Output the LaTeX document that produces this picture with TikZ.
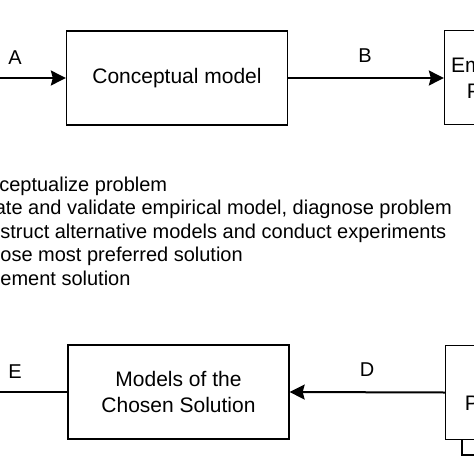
\documentclass[tikz,border=0pt]{standalone}
\usepackage{fontspec}
\setmainfont{Liberation Sans}
\usetikzlibrary{arrows.meta}

\begin{document}
\begin{tikzpicture}[x=1pt,y=-1pt,
    modelbox/.style={draw,line width=1.3pt,fill=white,minimum width=221pt,minimum height=94pt,
        inner sep=0pt,align=center,font=\fontsize{21}{26}\selectfont},
    flow/.style={line width=2pt,-{Stealth[length=15pt,width=15pt,inset=2pt]}},
    flowlabel/.style={font=\fontsize{20}{24}\selectfont},
    stepline/.style={anchor=base west,inner sep=0pt,font=\fontsize{20}{24}\selectfont}]
\useasboundingbox (0,0) rectangle (474,474);
\clip (0,0) rectangle (474,474);

% top row
\coordinate (problemin) at (-10,78);
\node[modelbox] (concept) at (177,78) {Conceptual model};
\node[modelbox] (empirical) at (555,77.5) {Empirical Model of the\\Problem Situations};
\draw[flow] (problemin) -- (concept.west);
\draw[flow] (concept.east) -- (concept.east -| empirical.west);
\node[flowlabel] (labA) at (15,58) {A};
\node[flowlabel] (labB) at (365,56) {B};

% steps
\node[stepline] (stepA) at (-62,191) {A: Conceptualize problem};
\node[stepline] (stepB) at (-62,214.5) {B: Create and validate empirical model, diagnose problem};
\node[stepline] (stepC) at (-62,238) {C: Construct alternative models and conduct experiments};
\node[stepline] (stepD) at (-62,261.5) {D: Choose most preferred solution};
\node[stepline] (stepE) at (-62,285) {E: Implement solution};

% bottom row
\coordinate (problemout) at (-30,392);
\draw[line width=1.3pt,fill=white] (462,360) rectangle (682,455);
\node[modelbox] (alternative) at (556,392.5) {Alternative\\Proposed Solutions};
\node[modelbox] (chosen) at (178.5,392) {Models of the\\Chosen Solution};
\draw[flow] (alternative.west) -- (chosen.east);
\draw[flow] (chosen.west) -- (problemout);
\node[flowlabel] (labD) at (367,370) {D};
\node[flowlabel] (labE) at (15,372) {E};
\end{tikzpicture}
\end{document}
